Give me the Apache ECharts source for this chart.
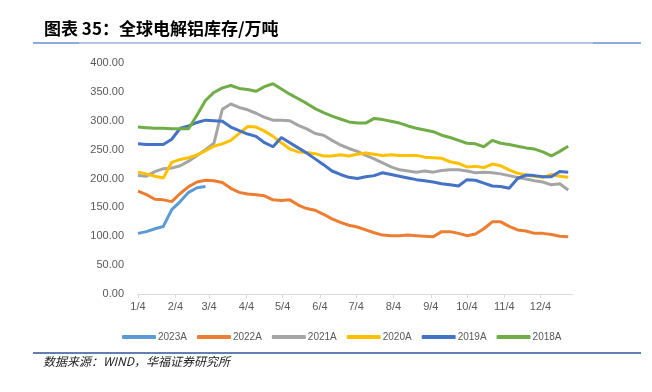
<!DOCTYPE html>
<html>
<head>
<meta charset="utf-8">
<script src="https://cdn.jsdelivr.net/npm/echarts@6/dist/echarts.min.js"></script>
<style>
  html, body { margin: 0; padding: 0; background: #fff; }
  #chart { width: 652px; height: 392px; }
</style>
</head>
<body>
<div id="chart"></div>
<script>
// weekly readings starting 1/4, one value per week
const years = ["2023A", "2022A", "2021A", "2020A", "2019A", "2018A"];
const colors = ["#5B9BD5", "#ED7D31", "#A5A5A5", "#FFC000", "#4472C4", "#70AD47"];

const v2023 = [105, 108, 113, 117, 146, 160, 176, 184, 186];
const v2022 = [178, 172, 164, 163, 160, 174, 186, 194, 197, 196, 193, 183, 176, 173, 172, 170,
  163, 162, 163, 154, 148, 145, 138, 130, 124, 119, 116, 111, 106, 102, 101, 101,
  102, 101, 100, 99, 108, 108, 105, 101, 104, 113, 125, 125, 117, 111, 109, 105,
  105, 103, 100, 99];
const v2021 = [205, 204, 212, 217, 218, 222, 230, 240, 250, 261, 320, 329, 323, 319, 313, 306,
  301, 301, 300, 292, 286, 278, 275, 266, 258, 252, 247, 240, 234, 227, 220, 215,
  213, 211, 213, 211, 214, 215, 215, 213, 210, 211, 210, 208, 205, 202, 199, 196,
  194, 189, 191, 180];
const v2020 = [211, 208, 204, 201, 228, 233, 236, 241, 248, 256, 260, 266, 278, 290, 289, 282,
  273, 262, 251, 246, 245, 243, 239, 239, 241, 239, 242, 244, 242, 240, 241, 240,
  240, 240, 237, 236, 235, 229, 226, 220, 221, 219, 225, 222, 215, 209, 206, 204,
  202, 207, 204, 202];
const v2019 = [260, 259, 259, 259, 268, 287, 291, 297, 301, 300, 299, 289, 283, 277, 273, 262,
  255, 271, 262, 253, 244, 234, 224, 213, 207, 202, 200, 203, 205, 210, 207, 204,
  201, 198, 196, 194, 191, 189, 187, 198, 197, 192, 187, 186, 183, 200, 206, 205,
  203, 203, 212, 211];
const v2018 = [289, 288, 287, 287, 286, 286, 286, 310, 335, 349, 357, 361, 356, 354, 351, 359,
  364, 355, 346, 338, 330, 321, 314, 308, 303, 298, 296, 296, 304, 302, 299, 296,
  291, 287, 284, 281, 275, 271, 266, 261, 260, 255, 266, 261, 259, 256, 253, 251,
  246, 239, 247, 256];
const values = [v2023, v2022, v2021, v2020, v2019, v2018];

const monthTicks = ["1/4", "2/4", "3/4", "4/4", "5/4", "6/4", "7/4", "8/4", "9/4", "10/4", "11/4", "12/4"];

// daily categories 1/4 .. 12/31
const days = [];
for (let d = 0; d <= 361; d++) {
  const dt = new Date(2023, 0, 4 + d);
  days.push((dt.getMonth() + 1) + "/" + dt.getDate());
}
const isTick = (idx, val) => monthTicks.indexOf(val) >= 0;

const chart = echarts.init(document.getElementById("chart"), null, { renderer: "canvas" });

chart.setOption({
  animation: false,
  backgroundColor: "#ffffff",
  title: {
    text: "图表 35：全球电解铝库存/万吨",
    left: 44,
    top: 20,
    padding: 0,
    textStyle: {
      fontFamily: "Noto Sans CJK SC",
      fontSize: 17,
      fontWeight: "bold",
      color: "#000000"
    }
  },
  grid: { left: 138, right: 79, top: 63, bottom: 98 },
  legend: {
    data: years,
    left: 117,
    top: 327,
    itemWidth: 34,
    itemHeight: 4,
    itemGap: 10,
    icon: "roundRect",
    textStyle: { color: "#595959", fontSize: 10, fontFamily: "Liberation Sans", padding: [0, 0, 0, -3] }
  },
  xAxis: {
    type: "category",
    data: days,
    boundaryGap: false,
    axisLine: { lineStyle: { color: "#D9D9D9", width: 1 } },
    axisTick: { interval: isTick, length: 4, lineStyle: { color: "#D9D9D9" } },
    axisLabel: {
      interval: isTick,
      color: "#595959",
      fontSize: 11,
      fontFamily: "Liberation Sans",
      margin: 7
    },
    splitLine: { show: false }
  },
  yAxis: {
    type: "value",
    min: 0,
    max: 400,
    interval: 50,
    axisLine: { show: false },
    axisTick: { show: false },
    splitLine: { show: false },
    axisLabel: {
      color: "#595959",
      fontSize: 11,
      fontFamily: "Liberation Sans",
      margin: 14,
      formatter: v => v.toFixed(2)
    }
  },
  series: years.map((name, k) => ({
    name,
    type: "line",
    symbol: "none",
    color: colors[k],
    lineStyle: { width: 3, color: colors[k] },
    data: values[k].map((v, i) => [i * 7, v])
  })),
  graphic: [
    { type: "line", shape: { x1: 33, y1: 43, x2: 641, y2: 43 }, style: { stroke: "#B4C7E7", lineWidth: 2 } },
    { type: "line", shape: { x1: 33, y1: 43, x2: 79, y2: 43 }, style: { stroke: "#8FAADC", lineWidth: 2 } },
    { type: "line", shape: { x1: 593, y1: 43, x2: 641, y2: 43 }, style: { stroke: "#8FAADC", lineWidth: 2 } },
    { type: "line", shape: { x1: 33, y1: 353, x2: 641, y2: 353 }, style: { stroke: "#2F5597", lineWidth: 1.5 } },
    {
      type: "text",
      left: 43,
      top: 355,
      style: {
        text: "数据来源：WIND，华福证券研究所",
        font: "italic 12px 'Noto Sans CJK SC'",
        fill: "#222222"
      }
    }
  ]
});
</script>
</body>
</html>
